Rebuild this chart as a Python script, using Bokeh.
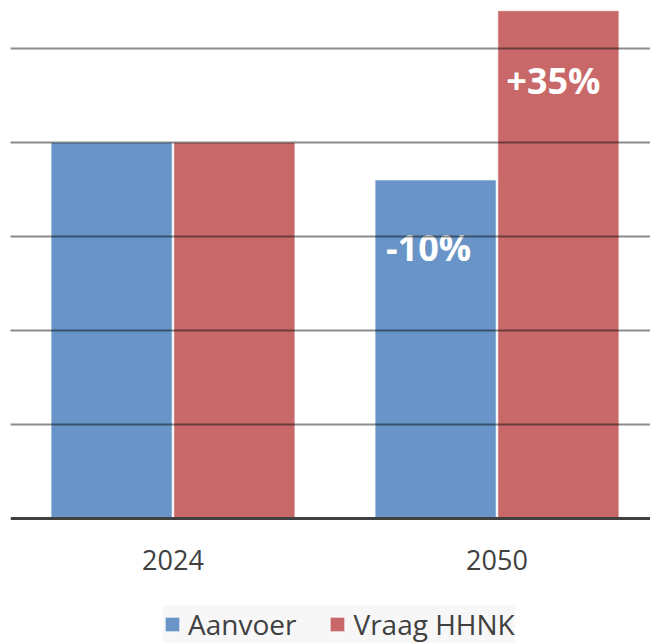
from bokeh.plotting import figure
from bokeh.models import Range1d, FixedTicker, Legend, LegendItem, ColumnDataSource
from bokeh.transform import dodge
from bokeh.embed import file_html
from bokeh.resources import INLINE
from bokeh.core.properties import value

categories = ["2024", "2050"]
aanvoer = [100, 90]
vraag = [100, 135]
aanvoer_labels = ["", "-10%"]
vraag_labels = ["", "+35%"]
series_names = ["Aanvoer", "Vraag HHNK"]
y_ticks = [0, 25, 50, 75, 100, 125]

BLUE = "#6994c7"
RED = "#c86868"
FONT = "Open Sans"

x = list(range(len(categories)))
src = ColumnDataSource(dict(x=x, aanvoer=aanvoer, vraag=vraag,
                            al=aanvoer_labels, vl=vraag_labels))

p = figure(width=650, height=644, output_backend="svg", toolbar_location=None,
           x_range=Range1d(-0.5015, 1.4738), y_range=Range1d(-33.5, 135.6),
           min_border_left=10, min_border_right=0, min_border_top=8,
           min_border_bottom=0)
p.outline_line_color = None
p.background_fill_color = "white"

bw = 0.3735
r1 = p.vbar(x=dodge("x", -0.1895, range=p.x_range), top="aanvoer", bottom=0, width=bw,
            source=src, fill_color=BLUE, line_color="white", line_alpha=0.6, line_width=1)
r2 = p.vbar(x=dodge("x", 0.1895, range=p.x_range), top="vraag", bottom=0, width=bw,
            source=src, fill_color=RED, line_color="white", line_alpha=0.6, line_width=1)

p.text(x=dodge("x", -0.1895, range=p.x_range), y="aanvoer", text="al", source=src,
       text_font=value(FONT), text_font_style="bold", text_font_size="36px",
       text_color="white", text_align="center", text_baseline="alphabetic",
       x_offset=-7, y_offset=67)
p.text(x=dodge("x", 0.1895, range=p.x_range), y="vraag", text="vl", source=src,
       text_font=value(FONT), text_font_style="bold", text_font_size="36px",
       text_color="white", text_align="center", text_baseline="alphabetic",
       x_offset=-5, y_offset=70)

# axes
p.yaxis.visible = False
p.yaxis.ticker = FixedTicker(ticks=y_ticks)
p.ygrid.ticker = FixedTicker(ticks=y_ticks[1:])
p.ygrid.grid_line_color = "black"
p.ygrid.grid_line_alpha = 0.45
p.ygrid.grid_line_width = 2
p.ygrid.level = "overlay"
p.xgrid.visible = False

xa = p.xaxis[0]
xa.fixed_location = 0
xa.ticker = FixedTicker(ticks=x)
xa.major_label_overrides = {i: c for i, c in zip(x, categories)}
xa.major_tick_line_color = None
xa.minor_tick_line_color = None
xa.axis_line_color = "#404040"
xa.axis_line_width = 3
xa.major_label_text_font = FONT
xa.major_label_text_font_size = "27px"
xa.major_label_text_color = "#404040"
xa.major_label_standoff = 25

legend = Legend(items=[LegendItem(label=series_names[0], renderers=[r1]),
                       LegendItem(label=series_names[1], renderers=[r2])],
                location=(153, 1), orientation="horizontal",
                label_text_font=FONT, label_text_font_size="28px",
                label_text_color="#404040",
                glyph_width=18, glyph_height=18, label_standoff=7, spacing=32,
                padding=8, margin=0,
                background_fill_color="#f7f7f7", background_fill_alpha=1,
                border_line_color=None)
p.add_layout(legend, "center")

open("out.html", "w").write(file_html(p, INLINE))
